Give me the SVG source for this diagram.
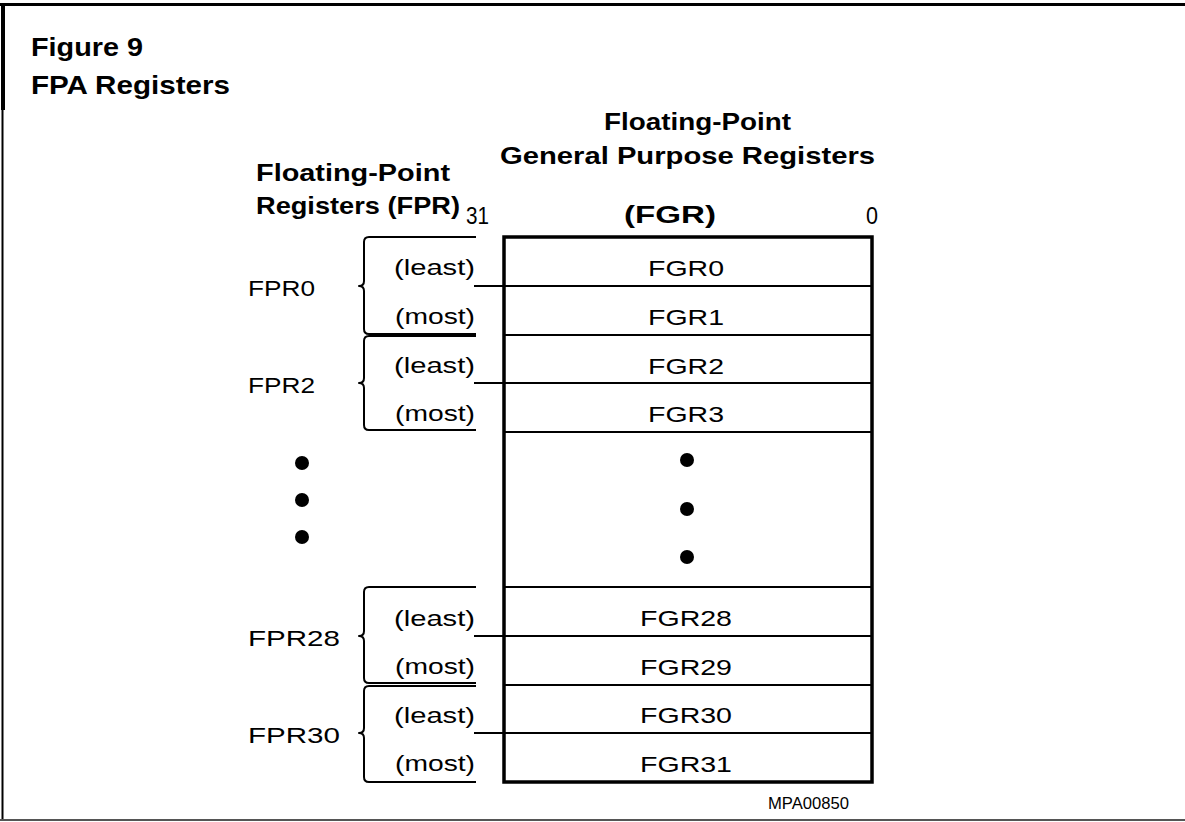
<svg xmlns="http://www.w3.org/2000/svg" width="1185" height="822" viewBox="0 0 1185 822">
<style>
.t{font-family:"Liberation Sans",Arial,Helvetica,sans-serif;fill:#000}
.b{font-weight:bold}
.h{font-size:24px}
.r{font-size:22px}
.ln{stroke:#000;stroke-width:2;fill:none}
.thick{stroke:#000;stroke-width:3.5;fill:none}
.brace{stroke:#000;stroke-width:2;fill:none;stroke-linejoin:round}
.fgr{text-anchor:middle}
.lab{text-anchor:end}
</style>
<rect x="0" y="0" width="1185" height="822" fill="#fff"/>
<g id="frame">
<line x1="0" y1="4.5" x2="1185" y2="4.5" stroke="#000" stroke-width="3"/>
<line x1="3" y1="4" x2="3" y2="110" stroke="#000" stroke-width="4"/>
<line x1="2.5" y1="110" x2="2.5" y2="820" stroke="#000" stroke-width="2"/>
<line x1="0" y1="820" x2="1185" y2="820" stroke="#555" stroke-width="2"/>
</g>
<g id="title">
<text class="t b" x="31" y="56" font-size="25" textLength="112" lengthAdjust="spacingAndGlyphs">Figure 9</text>
<text class="t b" x="31" y="94" font-size="25" textLength="199" lengthAdjust="spacingAndGlyphs">FPA Registers</text>
</g>
<g id="headers">
<text class="t b h" x="604" y="130" textLength="187" lengthAdjust="spacingAndGlyphs">Floating-Point</text>
<text class="t b h" x="500" y="164" textLength="375" lengthAdjust="spacingAndGlyphs">General Purpose Registers</text>
<text class="t b h" x="256" y="181" textLength="194" lengthAdjust="spacingAndGlyphs">Floating-Point</text>
<text class="t b h" x="256" y="214" textLength="204" lengthAdjust="spacingAndGlyphs">Registers (FPR)</text>
<text class="t h" x="466" y="224" textLength="23" lengthAdjust="spacingAndGlyphs">31</text>
<text class="t b h" x="624" y="223" textLength="92" lengthAdjust="spacingAndGlyphs">(FGR)</text>
<text class="t h" x="866" y="224" textLength="12" lengthAdjust="spacingAndGlyphs">0</text>
</g>
<g id="fgr-box">
<rect class="thick" x="504" y="237" width="368" height="545"/>
<line class="ln" x1="504" y1="335" x2="872" y2="335"/>
<line class="ln" x1="504" y1="432" x2="872" y2="432"/>
<line class="ln" x1="504" y1="587" x2="872" y2="587"/>
<line class="ln" x1="504" y1="685" x2="872" y2="685"/>
<text class="t r fgr" x="686" y="276" textLength="76" lengthAdjust="spacingAndGlyphs">FGR0</text>
<text class="t r fgr" x="686" y="325" textLength="76" lengthAdjust="spacingAndGlyphs">FGR1</text>
<text class="t r fgr" x="686" y="374" textLength="76" lengthAdjust="spacingAndGlyphs">FGR2</text>
<text class="t r fgr" x="686" y="422" textLength="76" lengthAdjust="spacingAndGlyphs">FGR3</text>
<circle cx="687" cy="460" r="7"/>
<circle cx="687" cy="509" r="7"/>
<circle cx="687" cy="557" r="7"/>
<text class="t r fgr" x="686" y="626" textLength="92" lengthAdjust="spacingAndGlyphs">FGR28</text>
<text class="t r fgr" x="686" y="675" textLength="92" lengthAdjust="spacingAndGlyphs">FGR29</text>
<text class="t r fgr" x="686" y="723" textLength="92" lengthAdjust="spacingAndGlyphs">FGR30</text>
<text class="t r fgr" x="686" y="772" textLength="92" lengthAdjust="spacingAndGlyphs">FGR31</text>
</g>
<g id="fpr0">
<path class="brace" d="M476,237 H369 Q364,237 364,242 V281 Q364,286 359,286 Q364,286 364,291 V329 Q364,334 369,334 H476"/>
<text class="t r" x="248" y="296" textLength="67" lengthAdjust="spacingAndGlyphs">FPR0</text>
<text class="t r lab" x="475" y="275" textLength="81" lengthAdjust="spacingAndGlyphs">(least)</text>
<text class="t r lab" x="475" y="324" textLength="80" lengthAdjust="spacingAndGlyphs">(most)</text>
</g>
<g id="fpr2">
<path class="brace" d="M476,336 H369 Q364,336 364,341 V378 Q364,383 359,383 Q364,383 364,388 V425 Q364,430 369,430 H476"/>
<text class="t r" x="248" y="393" textLength="67" lengthAdjust="spacingAndGlyphs">FPR2</text>
<text class="t r lab" x="475" y="373" textLength="81" lengthAdjust="spacingAndGlyphs">(least)</text>
<text class="t r lab" x="475" y="421" textLength="80" lengthAdjust="spacingAndGlyphs">(most)</text>
</g>
<g id="fpr-dots">
<circle cx="302" cy="463" r="7"/>
<circle cx="302" cy="500" r="7"/>
<circle cx="302" cy="537" r="7"/>
</g>
<g id="fpr28">
<path class="brace" d="M476,587 H369 Q364,587 364,592 V631 Q364,636 359,636 Q364,636 364,641 V678 Q364,683 369,683 H476"/>
<text class="t r" x="248" y="646" textLength="92" lengthAdjust="spacingAndGlyphs">FPR28</text>
<text class="t r lab" x="475" y="626" textLength="81" lengthAdjust="spacingAndGlyphs">(least)</text>
<text class="t r lab" x="475" y="674" textLength="80" lengthAdjust="spacingAndGlyphs">(most)</text>
</g>
<g id="fpr30">
<path class="brace" d="M476,686 H369 Q364,686 364,691 V728 Q364,733 359,733 Q364,733 364,738 V777 Q364,782 369,782 H476"/>
<text class="t r" x="248" y="743" textLength="92" lengthAdjust="spacingAndGlyphs">FPR30</text>
<text class="t r lab" x="475" y="723" textLength="81" lengthAdjust="spacingAndGlyphs">(least)</text>
<text class="t r lab" x="475" y="771" textLength="80" lengthAdjust="spacingAndGlyphs">(most)</text>
</g>
<g id="connectors">
<line class="ln" x1="474" y1="286" x2="872" y2="286"/>
<line class="ln" x1="474" y1="383" x2="872" y2="383"/>
<line class="ln" x1="474" y1="636" x2="872" y2="636"/>
<line class="ln" x1="474" y1="733" x2="872" y2="733"/>
</g>
<text class="t" x="768" y="809" font-size="16" textLength="81" lengthAdjust="spacingAndGlyphs">MPA00850</text>
</svg>
